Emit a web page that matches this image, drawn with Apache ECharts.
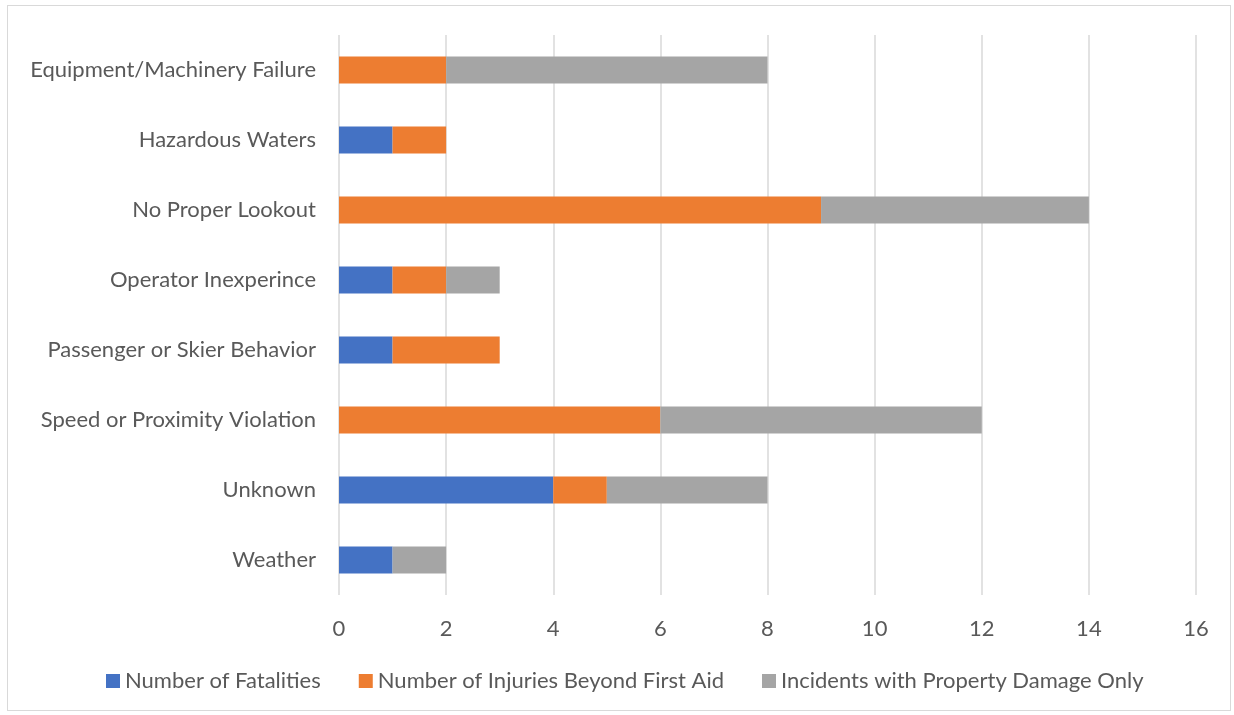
<!DOCTYPE html>
<html>
<head>
<meta charset="utf-8">
<script src="https://cdn.jsdelivr.net/npm/echarts@6/dist/echarts.min.js"></script>
<style>
    html, body { margin: 0; padding: 0; background: #fff; }
    #frame { position: absolute; left: 7px; top: 5px; width: 1224px; height: 706px; border: 1px solid #d9d9d9; box-sizing: border-box; }
    #chart { position: absolute; left: 0; top: 0; width: 1234px; height: 715px; }
</style>
</head>
<body>
<div id="frame"></div>
<div id="chart"></div>
<script>
// categories, top to bottom as shown
const categories = [
    'Equipment/Machinery Failure',
    'Hazardous Waters',
    'No Proper Lookout',
    'Operator Inexperince',
    'Passenger or Skier Behavior',
    'Speed or Proximity Violation',
    'Unknown',
    'Weather'
];
const fatalities = [0, 1, 0, 1, 1, 0, 4, 1];
const injuries = [2, 1, 9, 1, 2, 6, 1, 0];
const propertyDamage = [6, 0, 5, 1, 0, 6, 3, 1];
const seriesNames = ['Number of Fatalities', 'Number of Injuries Beyond First Aid', 'Incidents with Property Damage Only'];
const colors = ['#4472C4', '#ED7D31', '#A5A5A5'];

const chart = echarts.init(document.getElementById('chart'));
const font = 'Lato, "Open Sans", sans-serif';

function barSeries(name, data, color) {
    return {
        name: name,
        type: 'bar',
        stack: 'total',
        barWidth: 27,
        itemStyle: { color: color },
        data: data
    };
}

const option = {
    animation: false,
    textStyle: { fontFamily: font },
    color: colors,
    grid: { left: 339, right: 38, top: 35, bottom: 120, containLabel: false },
    legend: {
        bottom: 18,
        left: 101,
        itemWidth: 14,
        itemHeight: 14,
        itemGap: 38,
        icon: 'rect',
        textStyle: { fontFamily: font, fontSize: 22, color: '#595959', padding: [0, 0, 0, 0] },
        data: seriesNames
    },
    xAxis: {
        type: 'value',
        min: 0,
        max: 16,
        interval: 2,
        axisLine: { show: false },
        axisTick: { show: false },
        axisLabel: { fontFamily: font, fontSize: 22, color: '#595959', margin: 23 },
        splitLine: { lineStyle: { color: '#d9d9d9', width: 1.5 } }
    },
    yAxis: {
        type: 'category',
        inverse: true,
        data: categories,
        axisLine: { show: false },
        axisTick: { show: false },
        axisLabel: { fontFamily: font, fontSize: 22, color: '#595959', margin: 23 }
    },
    series: [
        barSeries(seriesNames[0], fatalities, colors[0]),
        barSeries(seriesNames[1], injuries, colors[1]),
        barSeries(seriesNames[2], propertyDamage, colors[2])
    ]
};

chart.setOption(option);
</script>
</body>
</html>
